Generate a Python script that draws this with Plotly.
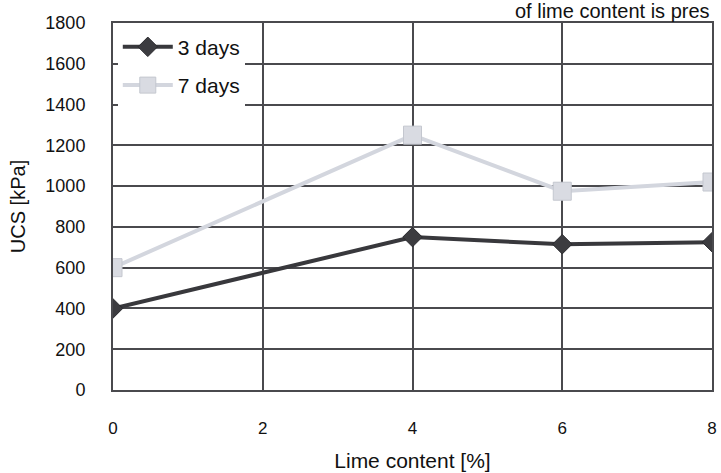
import plotly.graph_objects as go

# Lime content (%) and unconfined compressive strength (kPa)
lime_content = [0, 4, 6, 8]
ucs_3_days = [400, 750, 715, 725]
ucs_7_days = [600, 1250, 975, 1020]
x_ticks = [0, 2, 4, 6, 8]
y_ticks = list(range(0, 2000, 200))

fig = go.Figure()
fig.add_trace(go.Scatter(
    x=lime_content, y=ucs_3_days, name="3 days", mode="lines+markers",
    legendgroup="d3",
    line=dict(color="#38383c", width=4),
    marker=dict(symbol="diamond", size=15, color="#3c3c40",
                line=dict(color="#2a2a2e", width=1)),
))
fig.add_trace(go.Scatter(
    x=lime_content, y=ucs_7_days, name="7 days", mode="lines+markers",
    legendgroup="d7",
    line=dict(color="#d3d6de", width=4),
    marker=dict(symbol="square", size=18, color="#d9dbe2",
                line=dict(color="#c4c7cf", width=1)),
))

axis_font = dict(family="Liberation Sans, Arial, sans-serif", color="#111111")

fig.update_layout(
    width=721, height=473,
    margin=dict(l=113, r=4, t=23, b=83),
    paper_bgcolor="white", plot_bgcolor="white",
    showlegend=True,
    legend=dict(
        x=0.008, y=0.99, xanchor="left", yanchor="top",
        bgcolor="white", borderwidth=0,
        font=dict(family="Liberation Sans, Arial, sans-serif", size=21, color="#111111"),
        itemwidth=50, tracegroupgap=8, traceorder="grouped",
    ),
    xaxis=dict(
        range=[0, 8], tickvals=x_ticks, ticktext=[str(v) for v in x_ticks],
        showgrid=True, gridcolor="#4a4a4e", gridwidth=2,
        showline=True, linecolor="#4a4a4e", linewidth=2, mirror=True,
        zeroline=False, ticks="", ticklabelstandoff=22,
        tickfont=dict(family="Liberation Sans, Arial, sans-serif", size=17, color="#111111"),
        title=dict(text="Lime content [%]", standoff=16,
                   font=dict(size=21, **axis_font)),
    ),
    yaxis=dict(
        range=[0, 1800], tickvals=y_ticks,
        showgrid=True, gridcolor="#4a4a4e", gridwidth=2,
        showline=True, linecolor="#4a4a4e", linewidth=2, mirror=True,
        zeroline=False, ticks="", ticklabelstandoff=22,
        tickfont=dict(size=18, **axis_font),
        title=dict(text="UCS [kPa]", standoff=14,
                   font=dict(size=20, **axis_font)),
    ),
)

# Fragment of the surrounding text at the top edge
fig.add_annotation(
    text="of lime content is pres", xref="paper", yref="paper",
    x=1.0, y=1.0, xanchor="right", yanchor="bottom",
    xshift=0, yshift=-1, showarrow=False,
    font=dict(family="Liberation Sans, Arial, sans-serif", size=20, color="#111111"),
)

fig.write_html("out.html")
